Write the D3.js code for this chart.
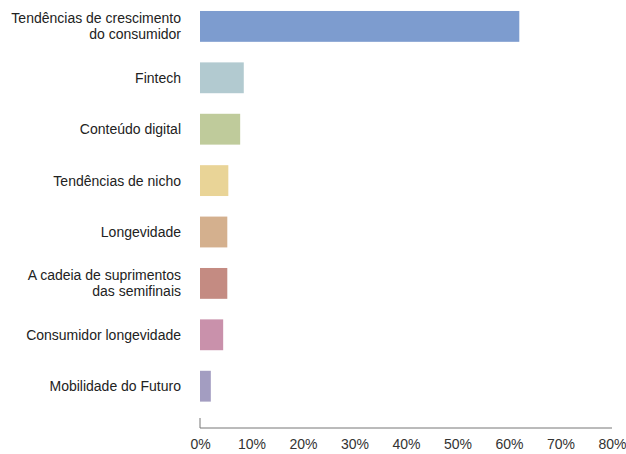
<!DOCTYPE html>
<head>
  <meta charset="utf-8">
  <script src="https://d3js.org/d3.v7.min.js"></script>
  <style>
    body { margin: 0; background: #fff; }
    svg text { font-family: "Liberation Sans", Arial, sans-serif; }
  </style>
</head>
<body>
<script>

var categories = [
  ["Tendências de crescimento", "do consumidor"],
  ["Fintech"],
  ["Conteúdo digital"],
  ["Tendências de nicho"],
  ["Longevidade"],
  ["A cadeia de suprimentos", "das semifinais"],
  ["Consumidor longevidade"],
  ["Mobilidade do Futuro"]
];
var values = [62, 8.5, 7.8, 5.5, 5.3, 5.3, 4.5, 2.1];
var colors = ["#7d9ccf", "#b2cad0", "#bfcb9b", "#e9d497", "#d4b08e", "#c48b82", "#c991ab", "#a39dc1"];
var ticks = [0, 10, 20, 30, 40, 50, 60, 70, 80];

var width = 626, height = 454,
    left = 200, right = 612, axisY = 428;

var x = d3.scaleLinear().domain([0, 80]).range([left, right]);

var y = d3.scaleBand()
    .domain(d3.range(categories.length))
    .range([0.7, 411.9])
    .paddingInner(0.4)
    .paddingOuter(0.2);

var svg = d3.select("body").append("svg")
    .attr("width", width)
    .attr("height", height);

svg.selectAll(".bar")
    .data(values)
  .enter().append("rect")
    .attr("class", "bar")
    .attr("x", x(0))
    .attr("y", function(d, i) { return y(i); })
    .attr("width", function(d) { return x(d) - x(0); })
    .attr("height", y.bandwidth())
    .style("fill", function(d, i) { return colors[i]; });

// category labels
var label = svg.selectAll(".label")
    .data(categories)
  .enter().append("text")
    .attr("class", "label")
    .attr("text-anchor", "end")
    .attr("fill", "#222")
    .style("font-size", "14px")
    .attr("transform", function(d, i) {
      return "translate(181," + (y(i) + y.bandwidth() / 2) + ")";
    });

label.selectAll("tspan")
    .data(function(d) { return d.map(function(t, j) { return {t: t, j: j, n: d.length}; }); })
  .enter().append("tspan")
    .attr("x", 0)
    .attr("y", function(d) { return (d.j - (d.n - 1) / 2) * 16; })
    .attr("dy", "0.35em")
    .text(function(d) { return d.t; });

// x axis
var xAxis = d3.axisBottom(x)
    .tickValues(ticks)
    .tickSize(0)
    .tickPadding(11)
    .tickFormat(function(d) { return d + "%"; });

var gx = svg.append("g")
    .attr("transform", "translate(0," + axisY + ")")
    .call(xAxis);

gx.select(".domain").remove();
gx.append("line")
    .attr("x1", x(0)).attr("x2", x(80))
    .attr("stroke", "#777");
gx.append("line")
    .attr("x1", x(0)).attr("x2", x(0))
    .attr("y1", -10).attr("y2", 0)
    .attr("stroke", "#777");
gx.selectAll(".tick text")
    .attr("fill", "#333")
    .style("font-size", "14px")
    .style("font-family", "'Liberation Sans', Arial, sans-serif");

</script>
</body>
